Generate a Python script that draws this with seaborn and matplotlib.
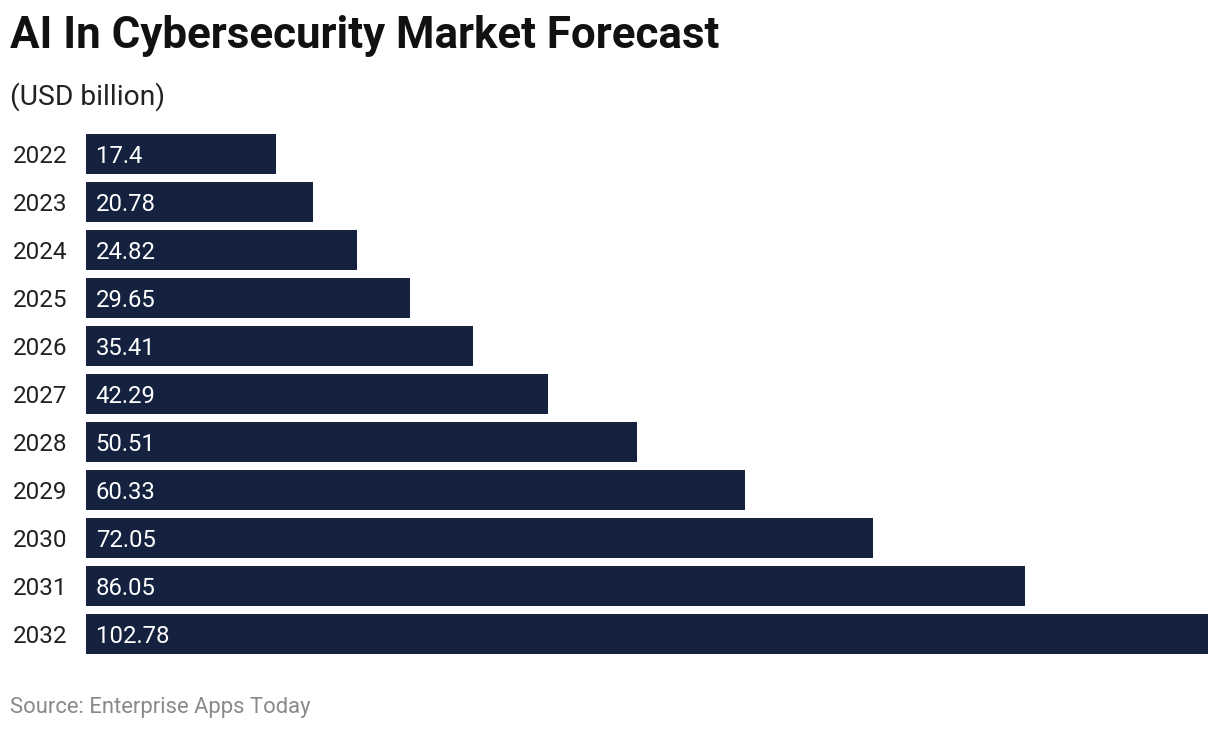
import pandas as pd
import matplotlib.pyplot as plt
import seaborn as sns

# values
years = ['2022', '2023', '2024', '2025', '2026', '2027', '2028', '2029', '2030', '2031', '2032']
market_size = [17.4, 20.78, 24.82, 29.65, 35.41, 42.29, 50.51, 60.33, 72.05, 86.05, 102.78]
value_labels = ['17.4', '20.78', '24.82', '29.65', '35.41', '42.29', '50.51', '60.33', '72.05', '86.05', '102.78']

data = pd.DataFrame({'Year': years, 'Size': market_size})

sns.set_style('white')
plt.rcParams['font.family'] = ['Roboto', 'DejaVu Sans']

bar_color = '#14213F'

fig = plt.figure(figsize=(12.2, 7.3), dpi=100)
ax = fig.add_axes([86 / 1220, 1 - 658 / 730, (1208 - 86) / 1220, (658 - 130) / 730])

sns.barplot(data=data, x='Size', y='Year', orient='h', color=bar_color,
            saturation=1, width=40 / 48, linewidth=0, ax=ax)

ax.set_xlim(0, max(market_size))
ax.set_xlabel('')
ax.set_ylabel('')
ax.set_xticks([])
sns.despine(ax=ax, left=True, bottom=True)

ax.tick_params(axis='y', length=0, pad=53, labelsize=17.5, labelcolor='#222222')
for lbl in ax.get_yticklabels():
    lbl.set_horizontalalignment('left')
    lbl.set_verticalalignment('center_baseline')

# labels inside the bars
for i, txt in enumerate(value_labels):
    ax.annotate(txt, xy=(0, i), xytext=(7, 0), textcoords='offset points',
                ha='left', va='center_baseline', color='white', fontsize=17.2)

fig.text(10 / 1220, 1 - 36 / 730, 'AI In Cybersecurity Market Forecast',
         fontsize=31.6, fontweight='bold', color='#111111', va='center', ha='left')
fig.text(10 / 1220, 1 - 97 / 730, '(USD billion)',
         fontsize=20.3, color='#222222', va='center', ha='left')
fig.text(10 / 1220, 1 - 707 / 730, 'Source: Enterprise Apps Today',
         fontsize=15.8, color='#8a8a8a', va='center', ha='left')

fig.savefig('out.png', dpi=100)
